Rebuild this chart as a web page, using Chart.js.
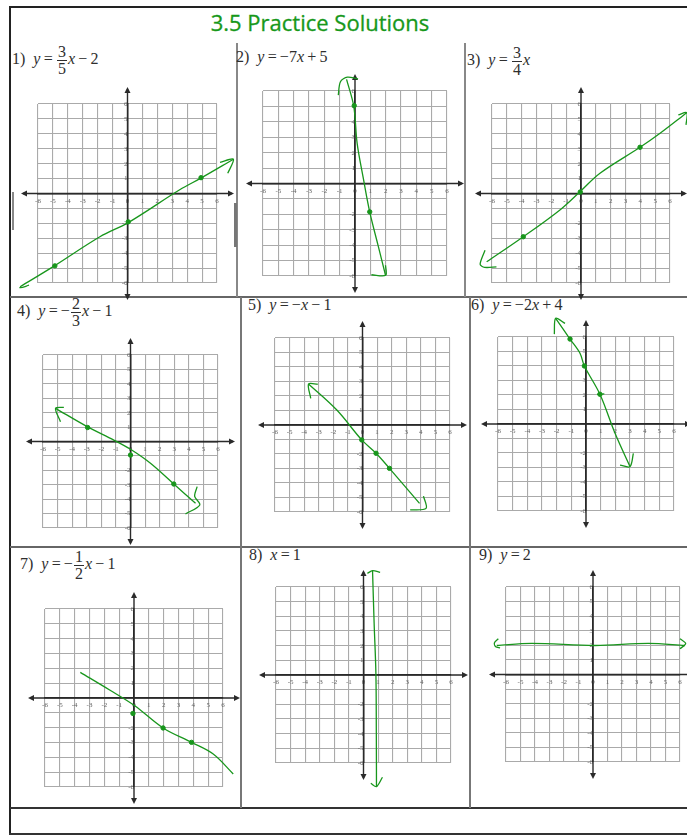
<!DOCTYPE html>
<html>
<head>
<meta charset="utf-8">
<script src="https://cdn.jsdelivr.net/npm/chart.js@4.4.0/dist/chart.umd.min.js"></script>
<style>
body { margin: 0; background: #fff; width: 687px; height: 835px; overflow: hidden; position: relative; }
.ln { position: absolute; background: #555; }
.eq { position: absolute; font-family: "Liberation Serif", serif; font-size: 16px; line-height: 18px; color: #2e2e2e; white-space: nowrap; }
.eq i { font-style: italic; }
.fr { display: inline-block; vertical-align: middle; text-align: center; line-height: 16px; margin: 0 1px; }
.fr span { display: block; padding: 0 1px; }
.fr span:first-child { border-bottom: 1px solid #2e2e2e; }
#title { position: absolute; left: 120px; top: 7px; width: 400px; text-align: center; font-family: "Open Sans", sans-serif; font-size: 22px; color: #17981a; -webkit-text-stroke: 0.3px #17981a; }
canvas { position: absolute; }
</style>
</head>
<body>
<div id="title">3.5 Practice Solutions</div>
<script>
// axis range and tick labels
var axisMin = -6;
var axisMax = 6;
var hiddenYLabels = [0, -1];

// equations shown in each cell
var equations = [
    '1)&ensp;<i>y</i>&thinsp;=&thinsp;<span class="fr"><span>3</span><span>5</span></span><i>x</i>&thinsp;&minus;&thinsp;2',
    '2)&ensp;<i>y</i>&thinsp;=&thinsp;&minus;7<i>x</i>&thinsp;+&thinsp;5',
    '3)&ensp;<i>y</i>&thinsp;=&thinsp;<span class="fr"><span>3</span><span>4</span></span><i>x</i>',
    '4)&ensp;<i>y</i>&thinsp;=&thinsp;&minus;<span class="fr"><span>2</span><span>3</span></span><i>x</i>&thinsp;&minus;&thinsp;1',
    '5)&ensp;<i>y</i>&thinsp;=&thinsp;&minus;<i>x</i>&thinsp;&minus;&thinsp;1',
    '6)&ensp;<i>y</i>&thinsp;=&thinsp;&minus;2<i>x</i>&thinsp;+&thinsp;4',
    '7)&ensp;<i>y</i>&thinsp;=&thinsp;&minus;<span class="fr"><span>1</span><span>2</span></span><i>x</i>&thinsp;&minus;&thinsp;1',
    '8)&ensp;<i>x</i>&thinsp;=&thinsp;1',
    '9)&ensp;<i>y</i>&thinsp;=&thinsp;2'
];

// hand drawn lines (x, y in graph units)
var curve1 = [[-7.2, -6.25], [-4.9, -4.85], [-1.85, -2.9], [0.05, -1.95], [3.5, 0.25], [4.95, 1.05], [7.1, 2.3]];
var curve2 = [[-0.55, 6.75], [-0.08, 5.0], [0.14, 2.6], [0.55, 0.3], [0.96, -1.84], [1.5, -4.0], [1.99, -5.95]];
var curve3 = [[-6.36, -4.58], [-3.89, -2.9], [-1.42, -1.1], [-0.07, 0.12], [1.28, 1.36], [3.98, 3.1], [5.33, 4.04], [7.13, 5.42]];
var curve4 = [[-5.14, 2.3], [-2.97, 1.03], [-1.14, 0.1], [0, -0.54], [1.37, -1.51], [2.97, -2.95], [4.46, -4.29]];
var curve5 = [[-3.7, 2.83], [-1.76, 1.03], [-0.05, -1.03], [0.93, -1.95], [1.85, -2.99], [3.91, -5.4]];
var curve6 = [[-2.07, 7.29], [-1.09, 5.86], [-0.41, 4.88], [-0.11, 4.0], [0.95, 2.05], [1.98, -0.64], [3.0, -2.94]];
var curve7 = [[-3.62, 1.73], [-1.64, 0.54], [0.05, -0.52], [1.96, -2.02], [3.88, -2.99], [5.34, -3.78], [6.69, -5.12]];
var curve8 = [[0.62, 7.11], [0.73, 3.5], [0.85, 0.12], [0.88, -4.0], [0.89, -7.61]];
var curve9 = [[-6.64, 1.99], [-4.23, 2.13], [0.14, 1.99], [3.82, 2.13], [6.34, 1.99]];

// arrow heads and hooks at the ends of the lines
var heads1 = [[[-7.48, -5.73], [-7.25, -6.3], [-6.6, -6.15]], [[6.2, 2.09], [7.1, 2.3], [6.72, 1.35]]];
var heads2 = [[[-1.09, 5.73], [-0.95, 6.6], [-0.5, 6.9], [0.2, 6.78]], [[1.99, -5.3], [2.0, -5.95], [1.07, -5.92]]];
var heads3 = [[[-6.47, -3.8], [-6.8, -4.75], [-6.5, -4.95], [-5.7, -4.92]], [[6.56, 5.27], [7.13, 5.42], [7.08, 4.6]]];
var heads4 = [[[-4.57, 2.37], [-5.14, 2.3], [-4.8, 1.37]], [[4.57, -3.13], [4.4, -3.8], [4.75, -4.4], [3.77, -5.03]]];
var heads5 = [[[-3.07, 2.81], [-3.7, 2.83], [-3.55, 1.84]], [[4.18, -4.9], [4.36, -5.75], [3.27, -5.86]]];
var heads6 = [[[-1.43, 6.94], [-2.07, 7.29], [-2.16, 6.2]], [[3.23, -2.02], [3.0, -2.94], [2.32, -2.83]], [[0.75, 2.05], [1.25, 2.08]]];
var heads7 = [];
var heads8 = [[[0.27, 6.93], [0.62, 7.11], [1.14, 7.0]], [[0.5, -7.38], [0.89, -7.61], [1.3, -6.97]]];
var heads9 = [[[-6.53, 2.45], [-6.8, 2.17], [-6.71, 1.9], [-6.41, 1.83]], [[6.0, 2.45], [6.39, 2.13], [6.0, 1.76]]];

// plotted points
var dots1 = [[-4.87, -4.85], [0.05, -1.9], [4.93, 1.06]];
var dots2 = [[-0.05, 5.05], [0.96, -1.84]];
var dots3 = [[-3.89, -2.9], [-0.05, 0.1], [3.98, 3.1]];
var dots4 = [[-2.94, 0.97], [0, -0.94], [2.97, -2.95]];
var dots5 = [[-0.05, -1.03], [0.93, -1.95], [1.85, -2.99]];
var dots6 = [[-1.09, 5.86], [-0.11, 4.0], [0.95, 2.05]];
var dots7 = [[-0.07, -1.04], [1.96, -2.02], [3.88, -2.99]];
var dots8 = [];
var dots9 = [];

var curves = [curve1, curve2, curve3, curve4, curve5, curve6, curve7, curve8, curve9];
var heads = [heads1, heads2, heads3, heads4, heads5, heads6, heads7, heads8, heads9];
var dots = [dots1, dots2, dots3, dots4, dots5, dots6, dots7, dots8, dots9];

// layout: grid box of each graph [left, top, right, bottom] and equation position [left, top]
var gridBoxes = [
    [38, 104, 217, 283], [263, 91, 447, 276], [492, 104, 670, 283],
    [43, 355, 218, 528], [275, 338, 450, 512], [498, 337, 674, 511],
    [45, 609, 223, 787], [276, 587, 451, 763], [506, 587, 680, 762]
];
var eqPos = [[12, 44], [236, 48], [467, 45], [17, 296], [248, 296], [471, 296], [20, 549], [249, 546], [479, 546]];

var GREEN = '#18961c';
var MARGIN = 30;
var EXT = 15;

// table rules [left, top, width, height, colour]
var rules = [
    [9, 6, 678, 2, '#222'], [9, 6, 2, 829, '#222'], [9, 833, 678, 2, '#333'],
    [10, 296, 677, 2, '#666'], [10, 546, 677, 2, '#666'], [10, 807, 677, 2, '#333'],
    [236, 43, 2, 254, '#888'], [464, 43, 2, 254, '#888'],
    [240, 297, 2, 511, '#777'], [469, 297, 2, 511, '#777'],
    [12, 192, 2, 38, '#888'], [234, 203, 3, 44, '#777']
];

rules.forEach(function(r) {
    var d = document.createElement('div');
    d.className = 'ln';
    d.style.left = r[0] + 'px';
    d.style.top = r[1] + 'px';
    d.style.width = r[2] + 'px';
    d.style.height = r[3] + 'px';
    d.style.background = r[4];
    document.body.appendChild(d);
});

equations.forEach(function(html, i) {
    var d = document.createElement('div');
    d.className = 'eq';
    d.style.left = eqPos[i][0] + 'px';
    d.style.top = eqPos[i][1] + 'px';
    d.innerHTML = html;
    document.body.appendChild(d);
});

function arrowHead(ctx, x, y, dx, dy) {
    ctx.beginPath();
    ctx.moveTo(x, y);
    ctx.lineTo(x - dx * 6 - dy * 3, y - dy * 6 - dx * 3);
    ctx.lineTo(x - dx * 6 + dy * 3, y - dy * 6 + dx * 3);
    ctx.closePath();
    ctx.fill();
}

// axis line extensions with arrows
var axisArrows = {
    id: 'axisArrows',
    beforeDatasetsDraw: function(chart) {
        var ctx = chart.ctx;
        var a = chart.chartArea;
        var x0 = chart.scales.x.getPixelForValue(0);
        var y0 = chart.scales.y.getPixelForValue(0);
        ctx.save();
        ctx.strokeStyle = '#2a2a2a';
        ctx.fillStyle = '#2a2a2a';
        ctx.lineWidth = 1.4;
        ctx.beginPath();
        ctx.moveTo(a.left - EXT, y0);
        ctx.lineTo(a.right + EXT, y0);
        ctx.moveTo(x0, a.top - EXT);
        ctx.lineTo(x0, a.bottom + EXT);
        ctx.stroke();
        arrowHead(ctx, a.left - EXT - 2, y0, -1, 0);
        arrowHead(ctx, a.right + EXT + 2, y0, 1, 0);
        arrowHead(ctx, x0, a.top - EXT - 2, 0, -1);
        arrowHead(ctx, x0, a.bottom + EXT + 2, 0, 1);
        ctx.restore();
    }
};

function toXY(list) {
    return list.map(function(p) { return {x: p[0], y: p[1]}; });
}

function makePanel(i) {
    var b = gridBoxes[i];
    var canvas = document.createElement('canvas');
    canvas.width = b[2] - b[0] + 2 * MARGIN;
    canvas.height = b[3] - b[1] + 2 * MARGIN;
    canvas.style.left = (b[0] - MARGIN) + 'px';
    canvas.style.top = (b[1] - MARGIN) + 'px';
    document.body.appendChild(canvas);

    var datasets = [];
    datasets.push({
        data: toXY(curves[i]), showLine: true, borderColor: GREEN, borderWidth: 1.3,
        pointRadius: 0, tension: 0.35, clip: false
    });
    heads[i].forEach(function(h) {
        datasets.push({
            data: toXY(h), showLine: true, borderColor: GREEN, borderWidth: 1.3,
            pointRadius: 0, tension: 0.3, clip: false
        });
    });
    datasets.push({
        data: toXY(dots[i]), showLine: false, pointRadius: 2.2,
        backgroundColor: GREEN, borderColor: GREEN, clip: false
    });

    var tickFont = {family: 'Liberation Serif', size: 7};

    new Chart(canvas.getContext('2d'), {
        type: 'scatter',
        data: {datasets: datasets},
        options: {
            responsive: false,
            animation: false,
            events: [],
            layout: {padding: MARGIN},
            elements: {line: {capBezierPoints: false}},
            plugins: {legend: {display: false}, tooltip: {enabled: false}},
            scales: {
                x: {
                    type: 'linear', min: axisMin, max: axisMax, position: {y: 0},
                    ticks: {stepSize: 1, autoSkip: false, maxRotation: 0, padding: 3, font: tickFont, color: '#666'},
                    grid: {color: '#aaaaaa', lineWidth: 1.1, drawTicks: false},
                    border: {color: '#2a2a2a', width: 1.4}
                },
                y: {
                    type: 'linear', min: axisMin, max: axisMax, position: {x: 0},
                    ticks: {
                        stepSize: 1, autoSkip: false, padding: 2, font: tickFont, color: '#666',
                        callback: function(v) { return hiddenYLabels.indexOf(v) >= 0 ? '' : v; }
                    },
                    grid: {color: '#aaaaaa', lineWidth: 1.1, drawTicks: false},
                    border: {color: '#2a2a2a', width: 1.4}
                }
            }
        },
        plugins: [axisArrows]
    });
}

for (var i = 0; i < gridBoxes.length; i++) {
    makePanel(i);
}
</script>
</body>
</html>
